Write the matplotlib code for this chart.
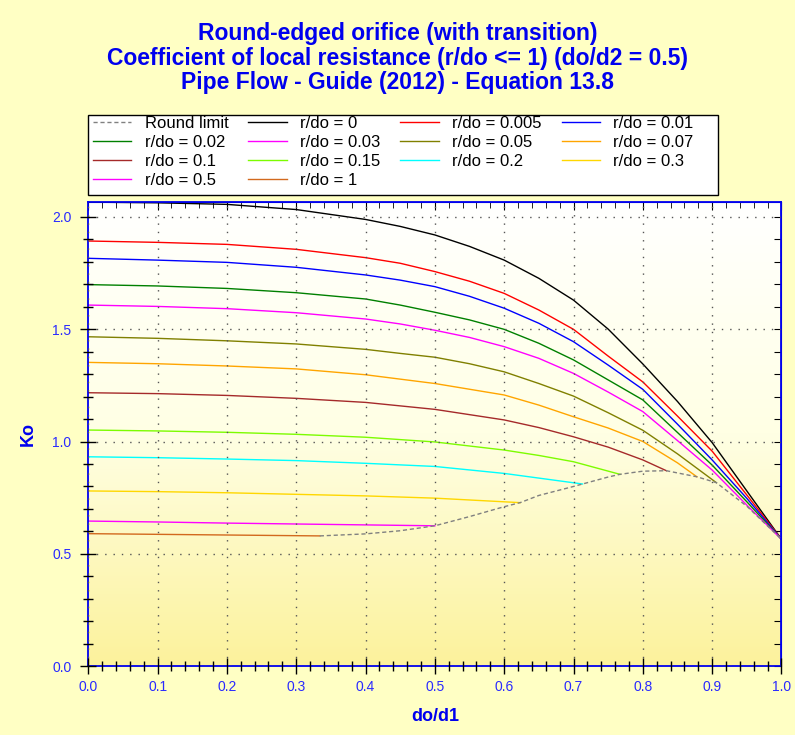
import matplotlib.pyplot as plt
import numpy as np
from matplotlib.ticker import MultipleLocator, FormatStrFormatter
from matplotlib.colors import LinearSegmentedColormap
from matplotlib.patches import Rectangle

plt.rcParams['font.family'] = ['Liberation Sans', 'DejaVu Sans']

# values (x = do/d1, y = Ko)
x_full = [0.0, 0.1, 0.2, 0.3, 0.4, 0.45, 0.5, 0.55, 0.6, 0.65, 0.7, 0.75, 0.8, 0.85, 0.9, 0.95, 1.0]
k_r0 = [2.065, 2.062, 2.055, 2.032, 1.988, 1.957, 1.919, 1.868, 1.807, 1.726, 1.629, 1.500, 1.345, 1.178, 0.995, 0.780, 0.565]
k_r0005 = [1.892, 1.886, 1.877, 1.855, 1.818, 1.793, 1.756, 1.713, 1.659, 1.585, 1.499, 1.380, 1.265, 1.113, 0.957, 0.762, 0.565]
k_r001 = [1.815, 1.807, 1.797, 1.775, 1.741, 1.718, 1.689, 1.646, 1.593, 1.526, 1.444, 1.340, 1.232, 1.077, 0.918, 0.747, 0.565]
k_r002 = [1.698, 1.692, 1.681, 1.662, 1.634, 1.607, 1.575, 1.541, 1.499, 1.437, 1.363, 1.274, 1.185, 1.040, 0.895, 0.732, 0.565]
k_r003 = [1.607, 1.601, 1.591, 1.573, 1.545, 1.523, 1.495, 1.463, 1.422, 1.370, 1.303, 1.220, 1.133, 1.004, 0.873, 0.717, 0.565]

x_r005 = [0.0, 0.1, 0.2, 0.3, 0.4, 0.45, 0.5, 0.55, 0.6, 0.65, 0.7, 0.75, 0.8, 0.85, 0.906]
k_r005 = [1.466, 1.459, 1.448, 1.434, 1.410, 1.392, 1.375, 1.346, 1.310, 1.258, 1.202, 1.128, 1.050, 0.945, 0.817]

x_r007 = [0.0, 0.1, 0.2, 0.3, 0.4, 0.5, 0.6, 0.65, 0.7, 0.75, 0.8, 0.85, 0.878]
k_r007 = [1.352, 1.346, 1.336, 1.323, 1.297, 1.258, 1.207, 1.162, 1.110, 1.060, 1.000, 0.905, 0.843]

x_r01 = [0.0, 0.1, 0.2, 0.3, 0.4, 0.5, 0.6, 0.65, 0.7, 0.75, 0.8, 0.834]
k_r01 = [1.217, 1.213, 1.205, 1.192, 1.174, 1.143, 1.096, 1.062, 1.021, 0.975, 0.918, 0.870]

x_r015 = [0.0, 0.1, 0.2, 0.3, 0.4, 0.5, 0.6, 0.65, 0.7, 0.767]
k_r015 = [1.051, 1.047, 1.041, 1.032, 1.019, 0.998, 0.962, 0.938, 0.910, 0.854]

x_r02 = [0.0, 0.1, 0.2, 0.3, 0.4, 0.5, 0.6, 0.713]
k_r02 = [0.932, 0.928, 0.922, 0.915, 0.903, 0.889, 0.858, 0.811]

x_r03 = [0.0, 0.1, 0.2, 0.3, 0.4, 0.5, 0.623]
k_r03 = [0.780, 0.777, 0.772, 0.765, 0.758, 0.748, 0.728]

x_r05 = [0.0, 0.1, 0.2, 0.3, 0.4, 0.5]
k_r05 = [0.646, 0.642, 0.637, 0.633, 0.629, 0.625]

x_r1 = [0.0, 0.1, 0.2, 0.3, 0.334]
k_r1 = [0.590, 0.587, 0.584, 0.581, 0.580]

x_limit = [0.334, 0.4, 0.45, 0.5, 0.55, 0.6, 0.623, 0.65, 0.7, 0.713, 0.75, 0.767,
           0.8, 0.834, 0.878, 0.906, 0.95, 1.0]
k_limit = [0.580, 0.589, 0.603, 0.625, 0.666, 0.710, 0.728, 0.760, 0.800, 0.811, 0.842, 0.854,
           0.868, 0.870, 0.843, 0.817, 0.712, 0.565]

series = [
    ("r/do = 0", x_full, k_r0, "#000000"),
    ("r/do = 0.005", x_full, k_r0005, "#ff0000"),
    ("r/do = 0.01", x_full, k_r001, "#0000ff"),
    ("r/do = 0.02", x_full, k_r002, "#008000"),
    ("r/do = 0.03", x_full, k_r003, "#ff00ff"),
    ("r/do = 0.05", x_r005, k_r005, "#808000"),
    ("r/do = 0.07", x_r007, k_r007, "#ffa500"),
    ("r/do = 0.1", x_r01, k_r01, "#a52a2a"),
    ("r/do = 0.15", x_r015, k_r015, "#7cfc00"),
    ("r/do = 0.2", x_r02, k_r02, "#00ffff"),
    ("r/do = 0.3", x_r03, k_r03, "#ffd700"),
    ("r/do = 0.5", x_r05, k_r05, "#ff00ff"),
    ("r/do = 1", x_r1, k_r1, "#d2691e"),
]

blue = "#0000ee"
tick_blue = "#2a2aff"
bg = "#ffffc4"
W, H = 795, 735

fig = plt.figure(figsize=(7.95, 7.35), dpi=100, facecolor=bg)
ax = fig.add_axes([0.111, 0.0935, 0.872, 0.6315])

# plot-area gradient: white at top to yellow at bottom
grad = LinearSegmentedColormap.from_list("bgrad", ["#fcf29c", "#ffffe4", "#ffffff"])
ax.imshow(np.linspace(0, 1, 256).reshape(-1, 1), aspect="auto", cmap=grad,
          extent=[0, 1, 0, 1], transform=ax.transAxes, origin="lower", zorder=0)

handles = {}
(h,) = ax.plot(x_limit, k_limit, color="#808080", lw=1.0, ls=(0, (3, 2)), zorder=3)
handles["Round limit"] = h
for label, xs, ks, c in series:
    (h,) = ax.plot(xs, ks, color=c, lw=1.0, zorder=2)
    handles[label] = h

ax.set_xlim(0, 1.0)
ax.set_ylim(0, 2.065)

ax.xaxis.set_major_locator(MultipleLocator(0.1))
ax.xaxis.set_minor_locator(MultipleLocator(0.02))
ax.yaxis.set_major_locator(MultipleLocator(0.5))
ax.yaxis.set_minor_locator(MultipleLocator(0.1))
ax.xaxis.set_major_formatter(FormatStrFormatter("%.1f"))
ax.yaxis.set_major_formatter(FormatStrFormatter("%.1f"))

ax.grid(True, which="major", color="#555555", ls=(0, (1, 5)), lw=1.0)
ax.set_axisbelow(False)

ax.tick_params(axis="both", which="major", direction="inout", length=12, width=1,
               color="black", labelcolor=tick_blue, labelsize=10)
ax.tick_params(axis="both", which="minor", direction="inout", length=7, width=1, color="black")
ax.tick_params(axis="x", which="major", pad=4)
ax.tick_params(axis="y", which="major", pad=6)

for s in ax.spines.values():
    s.set_color(blue)
    s.set_linewidth(1.3)

# inner ticks on top and right
top = ax.secondary_xaxis("top")
top.xaxis.set_major_locator(MultipleLocator(0.1))
top.xaxis.set_minor_locator(MultipleLocator(0.02))
top.tick_params(which="major", direction="in", length=6, color="black", labeltop=False)
top.tick_params(which="minor", direction="in", length=4, color="black")
top.spines["top"].set_color(blue)
right = ax.secondary_yaxis("right")
right.yaxis.set_major_locator(MultipleLocator(0.1))
right.tick_params(which="major", direction="in", length=5, color="black", labelright=False)
right.spines["right"].set_color(blue)

ax.set_xlabel("do/d1", color=blue, fontsize=13, fontweight="bold", labelpad=10)
ax.set_ylabel("Ko", color=blue, fontsize=13, fontweight="bold", labelpad=11)

fig.text(0.5, 1 - 58 / H,
         "Round-edged orifice (with transition)\n"
         "Coefficient of local resistance (r/do <= 1) (do/d2 = 0.5)\n"
         "Pipe Flow - Guide (2012) - Equation 13.8",
         ha="center", va="center", color=blue, fontsize=16.5, fontweight="bold",
         linespacing=1.09)

order = ["Round limit", "r/do = 0.02", "r/do = 0.1", "r/do = 0.5",
         "r/do = 0", "r/do = 0.03", "r/do = 0.15", "r/do = 1",
         "r/do = 0.005", "r/do = 0.05", "r/do = 0.2",
         "r/do = 0.01", "r/do = 0.07", "r/do = 0.3"]

# legend box drawn separately so its width matches the reference
fig.patches.append(Rectangle((88 / W, 1 - 195 / H), 630 / W, 80 / H, transform=fig.transFigure,
                             facecolor="white", edgecolor="black", lw=1.0, zorder=1))
leg = fig.legend([handles[k] for k in order], order, ncol=4, frameon=False,
                 loc="upper left", bbox_to_anchor=(93 / W, 1 - 116 / H),
                 fontsize=12, handlelength=2.3, handletextpad=0.8, labelspacing=0.24,
                 columnspacing=1.2, borderpad=0, borderaxespad=0)
leg.set_zorder(2)

fig.savefig("out.png", dpi=100, facecolor=bg)
